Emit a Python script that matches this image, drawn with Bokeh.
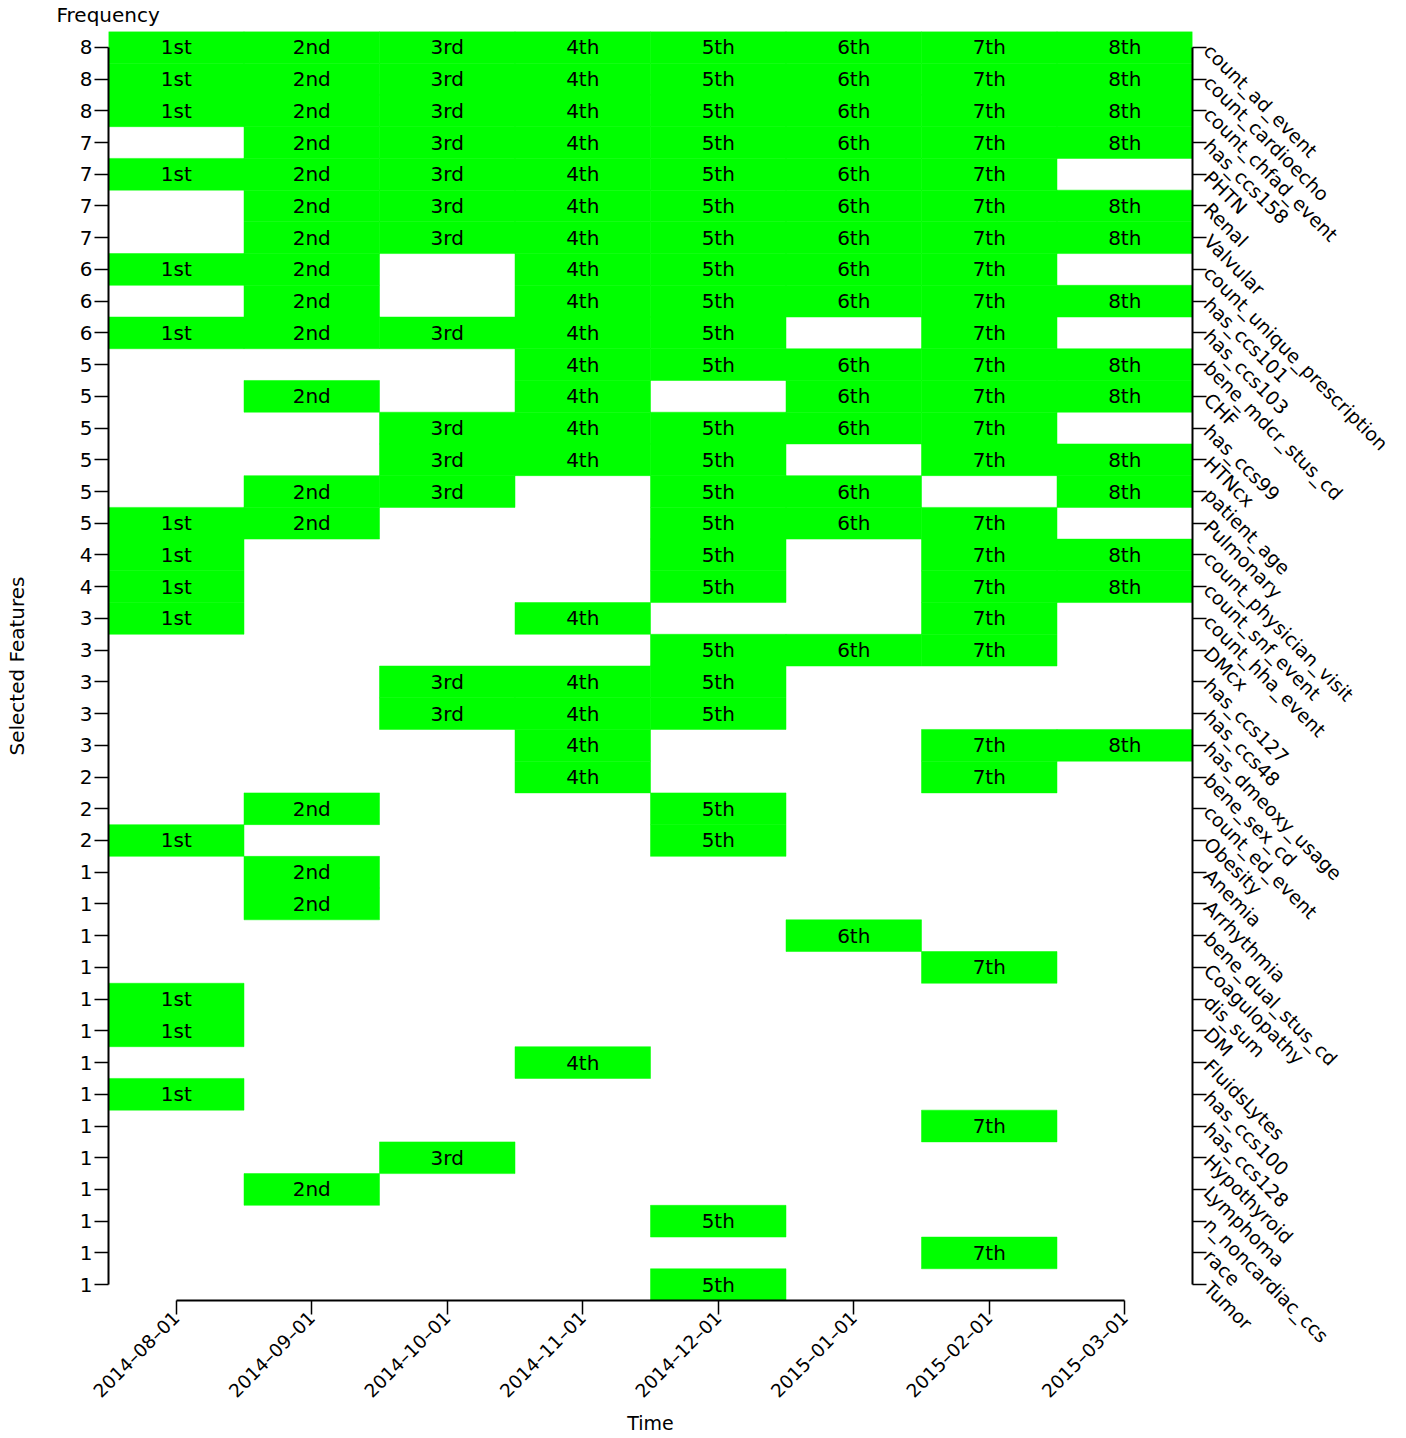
import math
from bokeh.plotting import figure
from bokeh.models import Range1d, LinearAxis, FixedTicker, ColumnDataSource
from bokeh.core.properties import value
from bokeh.embed import file_html
from bokeh.resources import INLINE

months = ["2014–08–01", "2014–09–01", "2014–10–01", "2014–11–01",
          "2014–12–01", "2015–01–01", "2015–02–01", "2015–03–01"]
ordinals = ["1st", "2nd", "3rd", "4th", "5th", "6th", "7th", "8th"]

features = ["count_ad_event", "count_cardioecho", "count_chfad_event", "has_ccs158",
            "PHTN", "Renal", "Valvular", "count_unique_prescription", "has_ccs101",
            "has_ccs103", "bene_mdcr_stus_cd", "CHF", "has_ccs99", "HTNcx",
            "patient_age", "Pulmonary", "count_physician_visit", "count_snf_event",
            "count_hha_event", "DMcx", "has_ccs127", "has_ccs48", "has_dmeoxy_usage",
            "bene_sex_cd", "count_ed_event", "Obesity", "Anemia", "Arrhythmia",
            "bene_dual_stus_cd", "Coagulopathy", "dis_sum", "DM", "FluidsLytes",
            "has_ccs100", "has_ccs128", "Hypothyroid", "Lymphoma", "n_noncardiac_ccs",
            "race", "Tumor"]

frequency = [8, 8, 8, 7, 7, 7, 7, 6, 6, 6, 5, 5, 5, 5, 5, 5, 4, 4, 3, 3, 3, 3, 3,
             2, 2, 2, 1, 1, 1, 1, 1, 1, 1, 1, 1, 1, 1, 1, 1, 1]

# months (1 = 1st ... 8 = 8th) in which each feature was selected
selected_months = [
    [1, 2, 3, 4, 5, 6, 7, 8], [1, 2, 3, 4, 5, 6, 7, 8], [1, 2, 3, 4, 5, 6, 7, 8],
    [2, 3, 4, 5, 6, 7, 8], [1, 2, 3, 4, 5, 6, 7], [2, 3, 4, 5, 6, 7, 8],
    [2, 3, 4, 5, 6, 7, 8], [1, 2, 4, 5, 6, 7], [2, 4, 5, 6, 7, 8],
    [1, 2, 3, 4, 5, 7], [4, 5, 6, 7, 8], [2, 4, 6, 7, 8], [3, 4, 5, 6, 7],
    [3, 4, 5, 7, 8], [2, 3, 5, 6, 8], [1, 2, 5, 6, 7], [1, 5, 7, 8], [1, 5, 7, 8],
    [1, 4, 7], [5, 6, 7], [3, 4, 5], [3, 4, 5], [4, 7, 8], [4, 7], [2, 5], [1, 5],
    [2], [2], [6], [7], [1], [1], [4], [1], [7], [3], [2], [5], [7], [5],
]

FONT = "DejaVu Sans"
FS = "20px"
GREEN = "#00ff00"

n_rows = len(features)
n_cols = len(months)
row_centers = [i + 0.5 for i in range(n_rows)]
col_centers = [i + 0.5 for i in range(n_cols)]

xs, ys, labels = [], [], []
for r, ms in enumerate(selected_months):
    for m in ms:
        xs.append(col_centers[m - 1])
        ys.append(row_centers[r])
        labels.append(ordinals[m - 1])
cells = ColumnDataSource(dict(x=xs, y=ys, label=labels))

p = figure(width=1406, height=1438, output_backend="svg", toolbar_location=None,
           x_range=Range1d(0, n_cols), y_range=Range1d(n_rows, 0),
           x_axis_location=None, y_axis_location=None,
           min_border_left=108, min_border_top=31, min_border_right=214,
           min_border_bottom=138, title="Frequency")
p.outline_line_color = None
p.grid.visible = False
p.background_fill_color = "white"
p.border_fill_color = "white"

p.title.align = "left"
p.title.vertical_align = "top"
p.title.offset = -52
p.title.standoff = 5
p.title.text_font = FONT
p.title.text_font_size = FS
p.title.text_font_style = "normal"
p.title.text_color = "black"

p.rect(x="x", y="y", width=1, height=1, source=cells, fill_color=GREEN,
       line_color=GREEN, line_width=0.5)
p.text(x="x", y="y", text="label", source=cells, text_align="center",
       text_baseline="middle", text_font=value(FONT), text_font_size=FS,
       text_color="black")


def style(ax, size=FS):
    ax.major_label_text_font = FONT
    ax.major_label_text_font_size = size
    ax.major_label_text_color = "black"
    ax.axis_label_text_font = FONT
    ax.axis_label_text_font_size = FS
    ax.axis_label_text_font_style = "normal"
    ax.axis_label_text_color = "black"
    ax.axis_line_width = 2
    ax.axis_line_color = "black"
    ax.major_tick_line_width = 1.5
    ax.major_tick_line_color = "black"
    ax.major_tick_in = 0
    ax.major_tick_out = 14
    ax.minor_tick_line_color = None
    ax.major_label_standoff = 2


left = LinearAxis(ticker=FixedTicker(ticks=row_centers),
                  major_label_overrides={c: str(f) for c, f in zip(row_centers, frequency)},
                  bounds=(row_centers[0], row_centers[-1]),
                  axis_label="Selected Features")
style(left)
left.axis_label_standoff = 48
p.add_layout(left, "left")

right = LinearAxis(ticker=FixedTicker(ticks=row_centers),
                   major_label_overrides={c: f for c, f in zip(row_centers, features)},
                   bounds=(row_centers[0], row_centers[-1]))
style(right, "19px")
right.major_label_standoff = 1
right.major_label_orientation = -math.pi / 4
p.add_layout(right, "right")

bottom = LinearAxis(ticker=FixedTicker(ticks=col_centers),
                    major_label_overrides={c: m for c, m in zip(col_centers, months)},
                    bounds=(col_centers[0], col_centers[-1]),
                    axis_label="Time")
style(bottom, "18.5px")
bottom.major_label_orientation = math.pi / 4
bottom.major_label_standoff = 0
bottom.axis_label_standoff = 0
bottom.axis_label_text_font_size = "19px"
p.add_layout(bottom, "below")

open("out.html", "w").write(file_html(p, INLINE))
